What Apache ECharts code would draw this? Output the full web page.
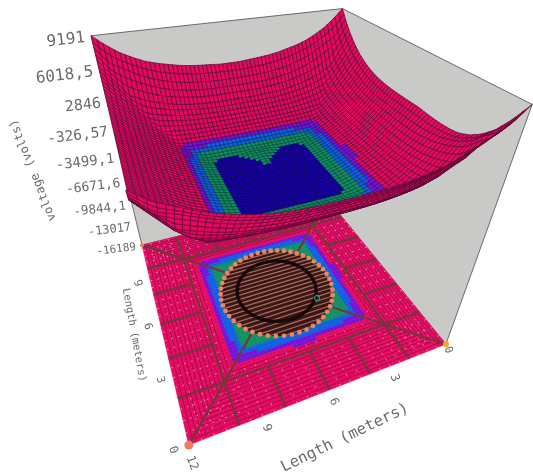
<!DOCTYPE html>
<html><head><meta charset="utf-8"><style>html,body{margin:0;background:#fff}#c{width:533px;height:474px}</style>
<script src="https://cdn.jsdelivr.net/npm/echarts@6/dist/echarts.min.js"></script></head><body><div id="c"></div>
<script>
const voltageTicks=[9191,6018.5,2846,-326.57,-3499.1,-6671.6,-9844.1,-13017,-16189];
const voltageLabels=['9191','6018,5','2846','-326,57','-3499,1','-6671,6','-9844,1','-13017','-16189'];
const voltageFontSizes=[16,16,15,14.5,14,13,12.5,12,11];
const frontTicks=[['9',9],['6',6],['3',3]];
const sideTicks=[['9',9],['6',6],['3',3]];
const bandLimits=[-1180,-804,-555,-210];
const bandColors=['#1600ad','#0f8f62','#0f5fe0','#7412d6','#e6085e'];
const bandStrokes=['#0c0060','#0a4a3a','#0a3080','#3c0a70','#5a0a38'];
const dotAngles=[0,7.5,15,22.5,30,37.5,45,52.5,60,67.5,75,82.5,90,97.5,105,112.5,120,127.5,135,142.5,150,157.5,165,172.5,180,187.5,195,202.5,210,217.5,225,232.5,240,247.5,255,262.5,270,277.5,285,292.5,300,307.5,315,322.5,330,337.5,345,352.5];
const Vmin=-16189,Vmax=9191,N=24;
const voltage=[
[9191,7600,6300,5400,4800,4400,4250,4200,4200,4250,4323,4303,4300,4303,4323,4377,4481,4653,4911,5270,5748,6362,7129,8065,9191],
[8200,6600,5900,4865,4310,3877,3553,3320,3164,3069,3020,3003,3000,3003,3020,3069,3164,3320,3553,3877,4310,4865,5558,6405,8200],
[7600,6200,4400,3408,2959,2610,2347,2159,2033,1956,1917,1902,1900,1902,1917,1956,2033,2159,2347,2610,2959,3408,3969,5800,7400],
[7000,5700,3900,2300,1770,1516,1325,1188,1096,1041,1012,1002,1000,1002,1012,1041,1096,1188,1325,1516,1770,2097,3408,5150,6800],
[6500,5200,3460,1970,782,623,503,418,360,326,308,301,300,301,308,326,360,418,503,623,782,1770,2959,4600,6300],
[6100,4780,3110,1716,623,-81,-129,-163,-186,-200,-207,-210,-210,-210,-207,-200,-186,-163,-129,-81,623,1516,2610,4170,5950],
[5800,4450,2850,1525,503,-129,-606,-640,-663,-677,-684,-687,-687,-687,-684,-677,-663,-640,-606,-129,503,1325,2347,3850,5700],
[5550,4220,2660,1388,418,-163,-640,-983,-1006,-1020,-1027,-1030,-1030,-1030,-1027,-1020,-1006,-983,-640,-163,418,1188,2159,3620,5450],
[5380,4060,2530,1296,360,-186,-663,-1006,-1235,-1249,-1256,-1259,-1259,-1259,-1256,-1249,-1235,-1006,-663,-186,360,1096,2033,3460,5280],
[5280,3970,2460,1241,326,-200,-677,-1020,-1249,-1388,-1395,-1398,-1398,-1398,-1395,-1388,-1249,-1020,-677,-200,326,1041,1956,3370,5170],
[5220,3920,2420,1212,308,-207,-684,-1027,-1256,-1395,-1467,-1470,-1470,-1470,-1467,-1395,-1256,-1027,-684,-207,308,1012,1917,3320,5100],
[5200,3900,2400,1202,301,-210,-687,-1030,-1259,-1398,-1470,-1496,-1496,-1496,-1470,-1190,-1000,-1030,-687,-210,301,1002,1902,3300,5000],
[5200,3900,2400,1200,300,-210,-687,-1030,-1259,-1398,-1470,-1496,-1500,-1496,-1100,-1000,-1000,-1030,-687,-210,300,1000,1900,3300,5000],
[5200,3900,2400,1202,301,-210,-687,-1030,-1259,-1398,-1470,-1496,-1496,-1496,-1470,-1190,-1000,-1030,-687,-210,301,1002,1902,3300,5000],
[5220,3920,2420,1212,308,-207,-684,-1027,-1256,-1395,-1467,-1470,-1470,-1470,-1467,-1395,-1256,-1027,-684,-207,308,1012,1917,3320,5100],
[5280,3970,2460,1241,326,-200,-677,-1020,-1249,-1388,-1395,-1398,-1398,-1398,-1395,-1388,-1249,-1020,-677,-200,326,1041,1956,3370,5170],
[5380,4060,2530,1296,360,-186,-663,-1006,-1235,-1249,-1256,-1259,-1259,-1259,-1256,-1249,-1235,-1006,-663,-186,360,1096,2033,3460,5280],
[5550,4220,2660,1388,418,-163,-640,-983,-1006,-1020,-1027,-1030,-1030,-1030,-1027,-1020,-1006,-983,-640,-163,418,1188,2159,3620,5450],
[5800,4450,2850,1525,503,-129,-606,-640,-663,-677,-684,-687,-687,-687,-684,-677,-663,-640,-606,-129,503,1325,2347,3850,5700],
[6100,4780,3110,1716,623,-81,-129,-163,-186,-200,-207,-210,-210,-210,-207,-200,-186,-163,-129,-81,623,1516,2610,4170,5950],
[6500,5200,3460,1970,782,623,503,418,360,326,308,301,300,301,308,326,360,418,503,623,782,1770,2959,4600,6300],
[7000,5700,3900,2300,1770,1516,1325,1188,1096,1041,1012,1002,1000,1002,1012,1041,1096,1188,1325,1516,1770,2097,3408,5150,6800],
[7600,6200,4400,3408,2959,2610,2347,2159,2033,1956,1917,1902,1900,1902,1917,1956,2033,2159,2347,2610,2959,3408,3969,5800,7400],
[8200,6600,5900,4865,4310,3877,3553,3320,3164,3069,3020,3003,3000,3003,3020,3069,3164,3320,3553,3877,4310,4865,5558,6405,8200],
[9191,8065,7129,6362,5748,5270,4911,4653,4481,4377,4323,4303,4300,4303,4323,4377,4481,4653,4911,5270,5748,6362,7129,8065,9191]];
const calib=[[0,0,1,532,105],[12,0,1,125,192],[12,12,1,92,35],[0,12,1,342,8],[0,0,0,447,343],[12,0,0,188,445],[12,12,0,142,245],[0,12,0,327,200]];
function solve(){const n=11,M=[...Array(n)].map(()=>Array(n+1).fill(0));
const add=(r,b)=>{for(let i=0;i<n;i++){for(let j=0;j<n;j++)M[i][j]+=r[i]*r[j];M[i][n]+=r[i]*b;}};
for(const [x,y,z,u,v] of calib){const X=x/12,Y=y/12;add([X,Y,z,1,0,0,0,0,-u*X,-u*Y,-u*z],u);add([0,0,0,0,X,Y,z,1,-v*X,-v*Y,-v*z],v);}
for(let c=0;c<n;c++){let p=c;for(let r=c;r<n;r++)if(Math.abs(M[r][c])>Math.abs(M[p][c]))p=r;[M[c],M[p]]=[M[p],M[c]];for(let r=0;r<n;r++)if(r!==c){const f=M[r][c]/M[c][c];for(let k=c;k<=n;k++)M[r][k]-=f*M[c][k];}}
return M.map((r,i)=>r[n]/r[i]);}
const P=solve();
function pr(x,y,V){const X=x/12,Y=y/12,Z=(V-Vmin)/(Vmax-Vmin),w=P[8]*X+P[9]*Y+P[10]*Z+1;return [(P[0]*X+P[1]*Y+P[2]*Z+P[3])/w,(P[4]*X+P[5]*Y+P[6]*Z+P[7])/w];}
const val=(x,y)=>{const a=Math.min(x*2,N-1e-6),b=Math.min(y*2,N-1e-6),i=Math.floor(a),j=Math.floor(b),s=a-i,t=b-j;return voltage[i][j]*(1-s)*(1-t)+voltage[i+1][j]*s*(1-t)+voltage[i][j+1]*(1-s)*t+voltage[i+1][j+1]*s*t;};
const band=v=>{for(let i=0;i<4;i++)if(v<bandLimits[i])return i;return 4;};
const cs=.2,M=60;
const cells=[];for(let i=0;i<M;i++)for(let j=M-1;j>=0;j--)cells.push([i*cs,j*cs]);
const series=[];
function layer(data,fn,z){series.push({type:'custom',coordinateSystem:'cartesian2d',silent:true,animation:false,progressive:0,clip:false,z,data:data.map((d,i)=>[i,0]),renderItem:(p,api)=>fn(data[p.dataIndex],q=>api.coord(q))});}
const fl=(x,y)=>pr(x,y,Vmin);
const polyW=(c,pts,st)=>({type:'polygon',shape:{points:pts.map(c)},style:st});
const lineW=(c,pts,st)=>({type:'polyline',shape:{points:pts.map(c)},style:Object.assign({fill:null},st)});
const txt='#6a6a6a';
layer(voltageTicks.map((v,i)=>[v,voltageLabels[i],voltageFontSizes[i]]),(d,c)=>{const q=c(pr(12,12,d[0]));return{type:'text',x:q[0]-6,y:q[1]+2,rotation:.12,style:{text:d[1],font:d[2]+'px "DejaVu Sans Mono"',fill:txt,align:'right',verticalAlign:'middle'}};},1);
const texts=[['voltage (volts)',33,170,1.95,12],['Length (meters)',134,335,-1.39,10.5],['Length (meters)',345,438,.45,15.5],['0',173,450,-1.2,12],['12',192,463,-1.2,12],['0',448,350,-1.2,11]];
layer(texts,(d,c)=>{const q=c([d[1],d[2]]);return{type:'text',x:q[0],y:q[1],rotation:d[3],style:{text:d[0],font:d[4]+'px "DejaVu Sans Mono"',fill:txt,align:'center',verticalAlign:'middle'}};},1);
layer(frontTicks,(d,c)=>{const a=fl(d[1],0),q=c([a[0]+4,a[1]+12]);return{type:'text',x:q[0],y:q[1],rotation:-1.2,style:{text:d[0],font:'12px "DejaVu Sans Mono"',fill:txt,align:'center',verticalAlign:'middle'}};},1);
layer(sideTicks,(d,c)=>{const a=fl(12,d[1]),q=c([a[0]-13,a[1]+2]);return{type:'text',x:q[0],y:q[1],rotation:-1.3,style:{text:d[0],font:'11px "DejaVu Sans Mono"',fill:txt,align:'center',verticalAlign:'middle'}};},1);
const wallSt={fill:'#c9c9c8',stroke:'#6a6a6a',lineWidth:1};
layer([[[0,0,Vmax],[0,12,Vmax],[0,12,Vmin],[0,0,Vmin]],[[12,12,Vmax],[0,12,Vmax],[0,12,Vmin],[12,12,Vmin]]],(d,c)=>polyW(c,d.map(a=>pr(a[0],a[1],a[2])),wallSt),2);
layer(cells,(d,c)=>{const [x,y]=d,f=bandColors[band(val(x+cs/2,y+cs/2))];return polyW(c,[fl(x,y),fl(x+cs,y),fl(x+cs,y+cs),fl(x,y+cs)],{fill:f,stroke:f,lineWidth:.5});},3);
const hatch=[];for(let o=.18;o<2.5;o+=.18)hatch.push([[o,o],[12-o,o],[12-o,12-o],[o,12-o],[o,o]]);
layer(hatch,(d,c)=>lineW(c,d.map(a=>fl(a[0],a[1])),{stroke:'#7a0a44',lineWidth:.8,opacity:.8}),4);
const pale=[];for(let t=.5;t<12;t+=.5){pale.push([[t,0],[t,2.4]],[[t,12],[t,9.6]],[[0,t],[2.4,t]],[[12,t],[9.6,t]]);}
layer(pale,(d,c)=>lineW(c,d.map(a=>fl(a[0],a[1])),{stroke:'#f8b4d4',lineWidth:.8,lineDash:[2,5],opacity:.85}),4);
const R=2.9;const brown=[[10,0,10,12],[2,0,2,12],[0,2,12,2],[0,10,12,10]];
[4,6,8].forEach(t=>brown.push([t,0,t,2],[t,12,t,10],[0,t,2,t],[12,t,10,t]));
const dg=6-R*.7071;brown.push([12,0,12-dg,dg],[12,12,12-dg,12-dg],[0,0,dg,dg],[0,12,dg,12-dg]);
layer(brown,(d,c)=>lineW(c,[fl(d[0],d[1]),fl(d[2],d[3])],{stroke:'#6e3a38',lineWidth:2.2}),5);
const circ=r=>{const o=[];for(let a=0;a<360;a+=6){o.push([6+r*Math.cos(a*Math.PI/180),6+r*Math.sin(a*Math.PI/180)]);}return o;};
layer([0],(d,c)=>polyW(c,circ(R).map(a=>fl(a[0],a[1])),{fill:'#3a1716'}),6);
const chords=[];for(let y=-R+.1;y<R;y+=.26){const h=Math.sqrt(R*R-y*y);chords.push([[6-h,6+y],[6+h,6+y]]);}
layer(chords,(d,c)=>lineW(c,d.map(a=>fl(a[0],a[1])),{stroke:'#a86c5e',lineWidth:1.2}),7);
layer([0],(d,c)=>{const pts=circ(2.05);pts.push(pts[0]);return lineW(c,pts.map(a=>fl(a[0],a[1])),{stroke:'#100505',lineWidth:3.5,opacity:.9});},8);
layer(dotAngles,(d,c)=>{const q=c(fl(6+R*Math.cos(d*Math.PI/180),6+R*Math.sin(d*Math.PI/180)));return{type:'circle',shape:{cx:q[0],cy:q[1],r:2.4},style:{fill:'#ee8560'}};},9);
layer([[12,0,4.5,'#f07a60'],[12,12,2,'#ee8060'],[0,0,3,'#f2a52a']],(d,c)=>{const q=c(fl(d[0],d[1]));return{type:'circle',shape:{cx:q[0],cy:q[1],r:d[2]},style:{fill:d[3]}};},9);
layer([[317,298]],(d,c)=>{const q=c(d);return{type:'circle',shape:{cx:q[0],cy:q[1],r:2.6},style:{fill:null,stroke:'#25b090',lineWidth:1}};},9);
layer(cells,(d,c)=>{const [x,y]=d,b=band(val(x+cs/2,y+cs/2));return polyW(c,[[x,y],[x+cs,y],[x+cs,y+cs],[x,y+cs]].map(a=>pr(a[0],a[1],val(a[0],a[1]))),{fill:bandColors[b],stroke:bandStrokes[b],lineWidth:.7});},10);
const chart=echarts.init(document.getElementById('c'),null,{renderer:'canvas'});
chart.setOption({animation:false,backgroundColor:'#fff',grid:{left:0,right:0,top:0,bottom:0},xAxis:{type:'value',min:0,max:533,show:false},yAxis:{type:'value',min:0,max:474,inverse:true,show:false},series});
</script></body></html>
